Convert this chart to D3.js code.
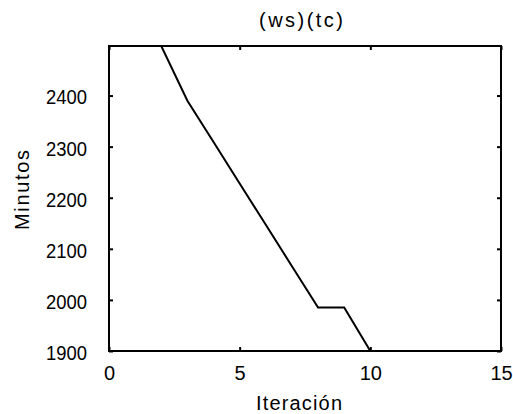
<!DOCTYPE html>
<html>
<head>
<meta charset="utf-8">
<script src="https://cdn.jsdelivr.net/npm/d3@7"></script>
<style>
  body { margin: 0; background: #fff; }
  svg text { font-family: "Liberation Sans", Arial, sans-serif; fill: #000; }
</style>
</head>
<body>
<div id="chart"></div>
<script>
// iteration -> minutes
var iterations = [2, 3, 4, 5, 6, 7, 8, 9, 10, 11, 12, 13, 14, 15];
var minutos    = [2497, 2390, 2309, 2228, 2147, 2066, 1985, 1985, 1900, 1900, 1900, 1900, 1900, 1900];
var xTicks = [0, 5, 10, 15];
var yTicks = [1900, 2000, 2100, 2200, 2300, 2400];

var width = 513, height = 414;
var margin = {top: 46, right: 12, bottom: 63, left: 109};
var w = width - margin.left - margin.right,
    h = height - margin.top - margin.bottom;

var svg = d3.select("#chart").append("svg")
    .attr("width", width)
    .attr("height", height);

var g = svg.append("g")
    .attr("transform", "translate(" + margin.left + "," + margin.top + ")");

var x = d3.scaleLinear().domain([0, 15]).range([0, w]);
var y = d3.scaleLinear().domain([1900, 2497]).range([h, 0]);

g.append("clipPath").attr("id", "clip")
  .append("rect").attr("width", w).attr("height", h);

var data = iterations.map(function(d, i) { return {it: d, v: minutos[i]}; });

var line = d3.line()
    .x(function(d) { return x(d.it); })
    .y(function(d) { return y(d.v); });

g.append("path")
    .datum(data)
    .attr("clip-path", "url(#clip)")
    .attr("fill", "none")
    .attr("stroke", "#000")
    .attr("stroke-width", 2)
    .attr("d", line);

// matlab style box with inward ticks on all sides
var axBottom = g.append("g").attr("transform", "translate(0," + h + ")")
    .call(d3.axisBottom(x).tickValues(xTicks).tickSizeInner(-4).tickSizeOuter(0).tickPadding(15));
var axTop = g.append("g")
    .call(d3.axisTop(x).tickValues(xTicks).tickSizeInner(-4).tickSizeOuter(0).tickFormat(""));
var axLeft = g.append("g")
    .call(d3.axisLeft(y).tickValues(yTicks).tickSizeInner(-4).tickSizeOuter(0).tickPadding(22).tickFormat(d3.format("d")));
var axRight = g.append("g").attr("transform", "translate(" + w + ",0)")
    .call(d3.axisRight(y).tickValues(yTicks).tickSizeInner(-4).tickSizeOuter(0).tickFormat(""));

[axBottom, axTop, axLeft, axRight].forEach(function(a) {
  a.select(".domain").remove();
  a.selectAll("line").attr("stroke", "#000").attr("stroke-width", 2);
  a.selectAll("text").attr("font-size", 20).attr("font-family", null);
});
axLeft.selectAll("text").attr("y", 2)
    .attr("textLength", 41).attr("lengthAdjust", "spacingAndGlyphs");

g.append("rect")
    .attr("width", w)
    .attr("height", h)
    .attr("fill", "none")
    .attr("stroke", "#000")
    .attr("stroke-width", 2);

svg.append("text")
    .attr("x", 301)
    .attr("y", 27)
    .attr("text-anchor", "middle")
    .attr("font-size", 20)
    .attr("textLength", 84)
    .text("(ws)(tc)");

svg.append("text")
    .attr("x", 299)
    .attr("y", 410)
    .attr("text-anchor", "middle")
    .attr("font-size", 20)
    .attr("textLength", 86)
    .text("Iteración");

svg.append("text")
    .attr("transform", "translate(29,190) rotate(-90)")
    .attr("text-anchor", "middle")
    .attr("font-size", 20)
    .attr("textLength", 80)
    .text("Minutos");
</script>
</body>
</html>
